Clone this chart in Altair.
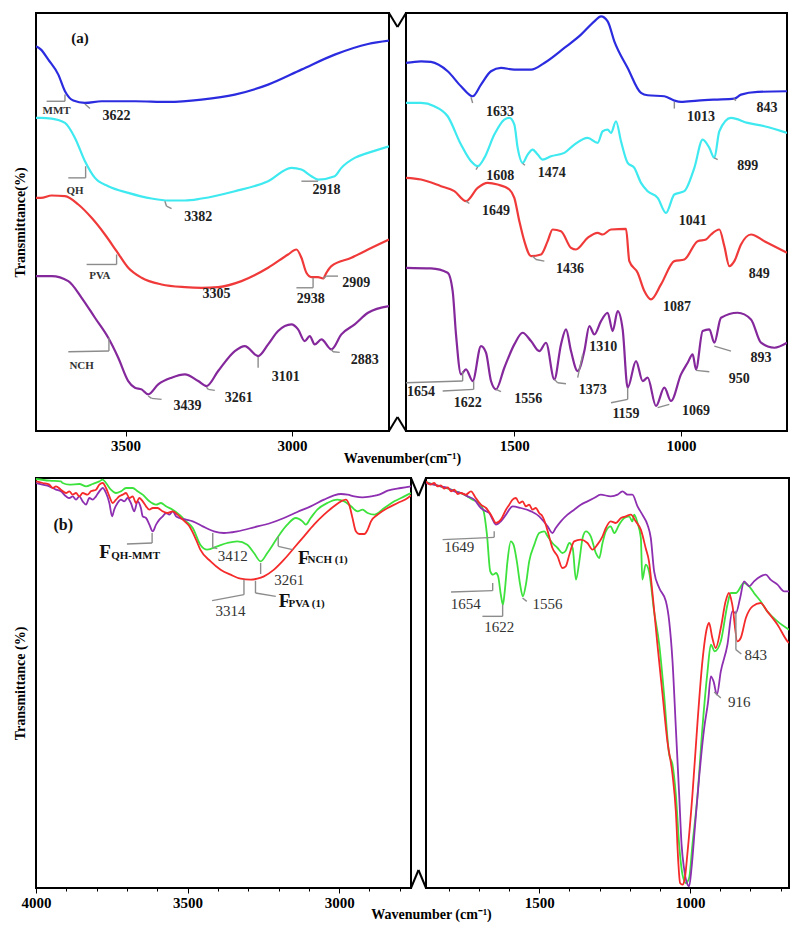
import altair as alt
import pandas as pd

FONT = "Liberation Serif"

# ---------------- Panel (a): individual spectra (wavenumber, transmittance a.u.) ----------------
A_LEFT_MMT = [(3769, 115.5), (3754, 114.5), (3732, 111.5), (3702, 107.0), (3682, 102.0), (3657, 99.2),
              (3622, 98.5), (3572, 99.0), (3472, 99.0), (3372, 98.8), (3272, 99.5), (3172, 101.0),
              (3072, 104.0), (2972, 108.5), (2872, 113.0), (2772, 116.2), (2709, 117.2)]
A_LEFT_QH = [(3769, 94.0), (3754, 94.0), (3722, 93.8), (3682, 92.5), (3652, 88.0), (3622, 81.0), (3592, 76.0),
             (3552, 73.5), (3492, 71.5), (3422, 69.8), (3372, 69.2), (3322, 69.2), (3272, 69.8),
             (3172, 72.0), (3072, 75.0), (3002, 79.0), (2972, 78.5), (2942, 76.5), (2922, 75.5),
             (2872, 76.5), (2852, 79.0), (2812, 82.0), (2772, 83.5), (2709, 85.5)]
A_LEFT_PVA = [(3769, 70.0), (3754, 70.0), (3722, 70.7), (3682, 70.5), (3642, 68.0), (3602, 64.0), (3562, 59.0),
              (3527, 54.0), (3492, 49.0), (3452, 46.0), (3392, 44.0), (3322, 43.2), (3272, 43.0),
              (3222, 43.2), (3152, 45.0), (3072, 49.0), (3012, 53.0), (2987, 54.5), (2972, 52.0),
              (2957, 47.5), (2942, 46.2), (2922, 46.2), (2907, 45.8), (2897, 47.5), (2882, 49.5),
              (2822, 52.0), (2772, 54.5), (2709, 57.5)]
A_LEFT_NCH = [(3769, 46.5), (3754, 46.5), (3722, 46.5), (3672, 45.0), (3632, 40.0), (3592, 34.0), (3552, 28.0),
              (3522, 22.0), (3492, 15.0), (3472, 13.0), (3452, 12.5), (3432, 11.0), (3402, 14.0),
              (3362, 16.0), (3322, 17.0), (3282, 15.0), (3257, 13.5), (3222, 18.0), (3172, 24.0),
              (3142, 25.5), (3102, 22.5), (3072, 26.0), (3042, 30.0), (3002, 32.0), (2982, 30.5),
              (2962, 27.0), (2947, 28.5), (2932, 26.0), (2912, 27.5), (2882, 24.5), (2852, 29.0),
              (2812, 32.0), (2772, 35.5), (2709, 37.5)]

A_RIGHT_MMT = [(1825, 110.5), (1780, 111.0), (1750, 110.8), (1700, 108.0), (1660, 103.5), (1625, 100.5),
               (1600, 104.0), (1570, 108.0), (1540, 109.0), (1500, 108.5), (1450, 108.5), (1410, 110.5),
               (1350, 115.0), (1300, 119.0), (1260, 123.0), (1240, 124.5), (1220, 123.0), (1200, 117.0),
               (1160, 109.0), (1120, 101.5), (1100, 100.8), (1050, 100.5), (1020, 99.2), (1000, 98.8),
               (950, 99.2), (900, 99.5), (840, 99.8), (820, 101.0), (770, 101.8), (682, 102.0)]
A_RIGHT_QH = [(1825, 98.5), (1780, 98.5), (1740, 97.5), (1700, 94.5), (1660, 86.0), (1630, 81.0),
              (1610, 79.5), (1590, 82.0), (1560, 89.0), (1530, 93.5), (1515, 94.0), (1500, 92.0),
              (1490, 85.0), (1475, 80.5), (1460, 83.0), (1445, 84.5), (1430, 83.0), (1415, 81.5),
              (1390, 82.5), (1350, 83.5), (1320, 86.0), (1280, 88.0), (1250, 86.5), (1235, 90.0),
              (1220, 90.5), (1210, 89.5), (1195, 93.0), (1180, 87.0), (1160, 80.5), (1140, 79.0),
              (1120, 74.5), (1100, 72.0), (1070, 70.0), (1045, 65.5), (1020, 71.0), (990, 72.0),
              (960, 79.0), (935, 87.5), (915, 85.0), (900, 82.0), (885, 90.0), (850, 94.0),
              (800, 92.5), (750, 91.5), (682, 89.5)]
A_RIGHT_PVA = [(1825, 76.0), (1780, 75.5), (1720, 73.5), (1680, 72.0), (1645, 69.0), (1610, 73.0),
               (1580, 74.5), (1550, 74.0), (1515, 72.5), (1500, 70.0), (1485, 63.0), (1470, 57.0),
               (1450, 52.5), (1420, 53.0), (1400, 57.0), (1385, 60.5), (1360, 60.0), (1330, 55.0),
               (1315, 54.5), (1280, 58.0), (1250, 59.5), (1235, 59.0), (1210, 60.5), (1165, 60.7),
               (1155, 51.0), (1130, 47.5), (1110, 42.0), (1090, 39.5), (1060, 44.0), (1020, 51.0),
               (990, 51.5), (950, 57.0), (925, 57.5), (910, 59.0), (885, 60.5), (870, 55.5),
               (855, 49.5), (840, 51.0), (820, 56.0), (790, 59.0), (750, 57.0), (682, 53.5)]
A_RIGHT_NCH = [(1825, 49.0), (1750, 48.8), (1700, 47.5), (1685, 42.0), (1675, 29.0), (1660, 17.0),
               (1645, 18.5), (1625, 15.0), (1600, 25.5), (1585, 23.5), (1570, 15.0), (1555, 12.5),
               (1530, 19.0), (1500, 26.0), (1475, 29.5), (1450, 27.0), (1425, 24.0), (1405, 26.5),
               (1380, 15.5), (1360, 26.0), (1345, 30.5), (1330, 24.0), (1310, 18.0), (1290, 24.0),
               (1275, 31.5), (1260, 29.0), (1240, 33.0), (1220, 35.5), (1205, 30.0), (1190, 36.0),
               (1175, 30.5), (1160, 13.0), (1135, 21.0), (1115, 15.0), (1100, 16.0), (1075, 7.5),
               (1050, 13.0), (1030, 9.0), (1000, 17.0), (980, 20.5), (965, 23.0), (955, 18.5),
               (935, 30.0), (915, 30.5), (900, 26.5), (880, 34.0), (830, 35.5), (790, 33.5),
               (760, 26.5), (720, 25.0), (682, 26.5)]

# ---------------- Panel (b): films ----------------
B_LEFT_GREEN = [(4000, 122.7), (3956, 122.2), (3918, 122.0), (3912, 121.5), (3890, 121.0), (3857, 121.2),
                (3835, 120.5), (3813, 121.2), (3791, 122.0), (3780, 122.5), (3769, 121.5), (3753, 119.5),
                (3736, 118.5), (3720, 119.0), (3703, 120.0), (3681, 120.0), (3665, 119.0), (3648, 118.0),
                (3626, 116.0), (3604, 115.0), (3588, 115.5), (3571, 114.5), (3549, 113.5), (3527, 112.0),
                (3505, 110.0), (3483, 108.0), (3458, 103.0), (3435, 101.5), (3402, 102.5), (3369, 103.5),
                (3336, 104.0), (3303, 103.0), (3281, 100.5), (3259, 98.0), (3237, 100.5), (3215, 103.5),
                (3193, 106.5), (3171, 109.0), (3143, 111.0), (3121, 110.0), (3110, 109.0), (3094, 111.0),
                (3072, 113.5), (3039, 115.5), (3006, 116.5), (2983, 116.0), (2961, 114.5), (2939, 113.0),
                (2923, 113.5), (2906, 112.5), (2884, 112.0), (2851, 114.0), (2818, 116.0), (2785, 117.5),
                (2763, 118.5)]
B_LEFT_RED = [(4000, 122.0), (3978, 121.5), (3956, 121.0), (3945, 120.0), (3934, 120.5), (3918, 119.5),
              (3901, 118.5), (3890, 119.0), (3879, 118.0), (3868, 118.5), (3857, 117.5), (3846, 118.5),
              (3830, 118.0), (3819, 119.0), (3802, 119.5), (3791, 121.0), (3780, 121.5), (3769, 120.0),
              (3758, 117.5), (3747, 115.5), (3736, 116.5), (3725, 117.5), (3714, 118.0), (3703, 118.5),
              (3692, 117.0), (3681, 117.5), (3670, 115.5), (3659, 117.0), (3648, 116.0), (3637, 114.5),
              (3626, 113.5), (3615, 114.0), (3599, 114.0), (3582, 113.0), (3566, 112.5), (3549, 113.0),
              (3533, 112.0), (3516, 110.5), (3494, 108.5), (3472, 104.5), (3458, 101.5), (3424, 98.0),
              (3391, 95.5), (3358, 94.0), (3325, 92.8), (3292, 92.5), (3270, 92.8), (3248, 93.5),
              (3215, 95.5), (3182, 98.5), (3149, 102.0), (3116, 105.5), (3083, 109.0), (3050, 112.0),
              (3017, 114.5), (2994, 116.0), (2978, 116.5), (2967, 115.0), (2956, 111.0), (2945, 107.0),
              (2934, 106.2), (2917, 106.2), (2906, 107.5), (2895, 110.0), (2873, 112.0), (2840, 114.0),
              (2807, 115.5), (2774, 117.0), (2763, 117.8)]
B_LEFT_PURPLE = [(4000, 121.5), (3978, 121.0), (3956, 120.5), (3934, 119.5), (3918, 119.0), (3901, 117.5),
                 (3890, 117.0), (3879, 117.5), (3868, 116.5), (3857, 117.5), (3846, 116.0), (3835, 115.0),
                 (3824, 117.0), (3813, 116.5), (3802, 117.5), (3791, 119.0), (3780, 120.0), (3769, 118.5),
                 (3758, 115.5), (3749, 111.5), (3742, 113.5), (3731, 115.5), (3720, 116.5), (3709, 116.0),
                 (3698, 117.0), (3687, 115.5), (3676, 113.0), (3665, 116.0), (3654, 114.0), (3648, 111.5),
                 (3637, 111.0), (3626, 109.0), (3615, 107.0), (3604, 109.0), (3593, 110.5), (3582, 111.5),
                 (3571, 112.5), (3560, 112.0), (3549, 113.0), (3538, 111.5), (3527, 111.0), (3505, 110.5),
                 (3483, 110.0), (3450, 108.5), (3413, 107.0), (3380, 106.5), (3336, 107.0), (3281, 108.2),
                 (3226, 109.5), (3182, 111.0), (3138, 112.8), (3094, 114.5), (3050, 116.5), (3017, 117.8),
                 (2994, 118.2), (2972, 118.0), (2950, 117.5), (2923, 117.2), (2895, 117.5), (2868, 118.0),
                 (2840, 119.2), (2796, 120.0), (2763, 120.5)]

B_RIGHT_GREEN = [(1875, 121.8), (1848, 121.0), (1815, 120.2), (1781, 119.2), (1748, 118.0), (1721, 116.5),
                 (1699, 115.5), (1684, 113.0), (1673, 106.0), (1662, 95.0), (1653, 94.0), (1643, 94.5),
                 (1636, 93.5), (1627, 88.0), (1620, 85.0), (1614, 89.0), (1605, 98.0), (1594, 104.0),
                 (1585, 103.0), (1574, 98.0), (1563, 91.0), (1554, 87.5), (1544, 91.0), (1533, 98.0),
                 (1516, 103.0), (1500, 106.5), (1483, 107.0), (1472, 105.5), (1456, 103.5), (1439, 102.0),
                 (1423, 100.5), (1412, 101.2), (1400, 103.5), (1389, 102.0), (1378, 92.5), (1367, 98.0),
                 (1356, 105.0), (1345, 107.0), (1329, 105.5), (1312, 100.5), (1301, 99.0), (1290, 103.5),
                 (1279, 107.0), (1263, 108.5), (1251, 106.5), (1235, 109.0), (1218, 111.0), (1202, 111.5),
                 (1191, 110.0), (1185, 112.0), (1174, 109.5), (1163, 105.0), (1158, 92.5), (1147, 97.0),
                 (1136, 95.0), (1119, 83.0), (1102, 73.0), (1086, 58.0), (1069, 40.0), (1058, 37.0),
                 (1047, 28.0), (1036, 13.0), (1025, 4.0), (1014, 1.5), (1003, 3.0), (992, 13.0),
                 (975, 28.0), (959, 48.0), (942, 65.0), (931, 73.0), (918, 71.0), (898, 74.0),
                 (876, 85.0), (865, 88.5), (848, 88.5), (821, 91.5), (804, 90.5), (788, 88.5),
                 (766, 86.0), (744, 83.0), (710, 80.0), (672, 77.5)]
B_RIGHT_RED = [(1875, 122.0), (1860, 121.0), (1848, 121.5), (1837, 120.5), (1826, 120.8), (1815, 119.8),
               (1803, 120.2), (1792, 119.0), (1781, 119.5), (1770, 118.2), (1759, 118.5), (1743, 118.0),
               (1726, 119.0), (1710, 117.0), (1693, 115.0), (1676, 114.0), (1660, 112.0),
               (1643, 109.5), (1627, 110.5), (1610, 113.5), (1599, 115.0), (1588, 116.5), (1577, 117.0),
               (1566, 115.5), (1555, 116.0), (1544, 114.5), (1533, 115.0), (1522, 113.5), (1511, 114.0),
               (1500, 112.5), (1489, 111.5), (1478, 109.0), (1467, 105.5), (1456, 102.0), (1439, 99.5),
               (1423, 96.0), (1412, 96.5), (1400, 100.0), (1384, 104.0), (1362, 104.5), (1340, 103.5),
               (1323, 101.5), (1307, 103.0), (1290, 105.5), (1279, 108.0), (1263, 110.0), (1246, 109.5),
               (1229, 111.0), (1213, 111.5), (1196, 112.0), (1180, 110.0), (1163, 107.5), (1147, 102.0),
               (1136, 98.0), (1124, 88.0), (1108, 73.0), (1091, 58.0), (1075, 44.0), (1058, 34.0),
               (1047, 23.0), (1039, 8.0), (1033, 1.5), (1025, 1.0), (1017, 3.0), (1009, 10.0),
               (992, 28.0), (975, 50.0), (959, 68.0), (944, 78.0), (937, 79.5), (926, 75.0),
               (915, 72.0), (898, 78.0), (882, 86.0), (871, 88.5), (860, 85.0), (843, 74.0),
               (832, 75.0), (815, 81.0), (793, 84.5), (766, 85.5), (744, 83.0), (710, 79.0),
               (677, 74.0), (672, 73.5)]
B_RIGHT_PURPLE = [(1875, 121.5), (1848, 121.0), (1826, 120.5), (1803, 120.0), (1781, 119.0), (1759, 118.5),
                  (1737, 117.5), (1715, 116.5), (1693, 114.0), (1676, 113.0), (1665, 112.5), (1654, 110.5),
                  (1643, 109.0), (1627, 110.0), (1610, 112.0), (1588, 114.5), (1561, 114.0), (1527, 113.0),
                  (1500, 111.5), (1472, 108.5), (1456, 106.5), (1445, 108.0), (1428, 110.0), (1406, 112.0),
                  (1384, 113.5), (1362, 115.0), (1340, 116.0), (1318, 117.0), (1296, 118.0), (1263, 117.5),
                  (1240, 118.0), (1224, 119.0), (1207, 118.0), (1191, 118.0), (1174, 114.5), (1158, 112.0),
                  (1141, 109.0), (1130, 105.0), (1119, 95.0), (1102, 90.0), (1080, 86.0), (1069, 80.0),
                  (1058, 68.0), (1047, 48.0), (1036, 28.0), (1028, 13.0), (1020, 6.0), (1012, 2.0),
                  (1003, 0.5), (995, 6.0), (984, 18.0), (970, 33.0), (953, 48.0), (940, 56.0),
                  (931, 63.5), (922, 62.0), (911, 58.0), (898, 65.0), (876, 73.0), (860, 83.0),
                  (848, 82.5), (834, 87.0), (821, 92.0), (804, 90.5), (788, 92.0), (766, 93.5),
                  (749, 94.0), (733, 92.5), (710, 91.0), (688, 89.0), (672, 89.0)]

# ---------------- annotations ----------------
A_LEFT_PEAKS = [("3622", 3527, 94.5), ("3382", 3282, 64.2), ("2918", 2897, 72.5), ("3305", 3227, 41.0),
                ("2938", 2944, 39.7), ("2909", 2807, 44.5), ("3439", 3314, 7.5), ("3261", 3160, 10.0),
                ("3101", 3019, 16.2), ("2883", 2782, 21.2)]
A_LEFT_NAMES = [("MMT", 3707, 96.0), ("QH", 3652, 72.0), ("PVA", 3577, 46.5), ("NCH", 3632, 19.5)]
A_LEFT_LEADERS = [(3682, 101, 3682, 99), (3682, 99, 3737, 99), (3622, 98.2, 3607, 96.8),
                  (3620, 79.5, 3620, 76), (3620, 76, 3672, 76), (3382, 69, 3377, 67.5), (3377, 67.5, 3362, 66.8),
                  (2972, 75, 2922, 75), (3527, 53, 3527, 50), (3527, 50, 3617, 50),
                  (2937, 46, 2937, 43), (2937, 43, 2987, 43), (2907, 45.8, 2897, 46.5), (2897, 46.5, 2862, 46.5),
                  (3550, 28, 3550, 24), (3550, 24, 3672, 23.8), (3432, 10.5, 3422, 9.8), (3422, 9.8, 3392, 9.5),
                  (3257, 13.2, 3252, 12.5), (3252, 12.5, 3232, 12.2), (3102, 22.2, 3102, 19),
                  (2882, 24.5, 2877, 23.8), (2877, 23.8, 2857, 23.6)]
A_RIGHT_PEAKS = [("1633", 1543, 95.8), ("1013", 940, 94.3), ("843", 742, 97.0), ("1608", 1542, 76.7),
                 ("1474", 1388, 77.5), ("899", 800, 79.7), ("1041", 965, 63.0), ("1649", 1555, 66.2),
                 ("1436", 1333, 48.5), ("1087", 1012, 37.2), ("849", 765, 47.0), ("1654", 1780, 11.8),
                 ("1622", 1640, 8.5), ("1556", 1458, 9.5), ("1373", 1265, 12.2), ("1310", 1233, 25.2),
                 ("1159", 1165, 5.2), ("1069", 955, 6.0), ("950", 825, 15.7), ("893", 760, 21.8)]
A_RIGHT_LEADERS = [(1630, 100.2, 1625, 98.5), (1020, 98.8, 1020, 96.8), (842, 99.8, 835, 99.2),
                   (1610, 79.3, 1615, 78.5), (1475, 80.3, 1468, 79.8), (900, 82, 890, 81.5),
                   (1645, 69, 1635, 68.3), (1445, 52.5, 1435, 51.5), (1435, 51.5, 1410, 51),
                   (1655, 18, 1655, 15), (1655, 15, 1825, 14.5), (1622, 15, 1622, 12.5), (1622, 12.5, 1715, 12),
                   (1555, 12.5, 1540, 11.8), (1380, 15.5, 1370, 14.5), (1370, 14.5, 1345, 14.2),
                   (1310, 16, 1295, 23), (1160, 13, 1160, 9.5), (1160, 9.5, 1210, 8.5),
                   (1070, 7, 1035, 8), (955, 18.2, 915, 17.8), (900, 25.5, 850, 24)]

B_LEFT_PEAKS = [("3412", 3351, 99.5), ("3261", 3165, 92.5), ("3314", 3358, 83.2)]
B_LEFT_F = [("F", 3772, 100.8), ("F", 3117, 99.0), ("F", 3180, 86.0)]
B_LEFT_SUB = [("QH-MMT", 3752, 99.6), ("NCH (1)", 3104, 98.3), ("PVA (1)", 3167, 85.1)]
B_LEFT_LEADERS = [(3617, 106.5, 3617, 103.5), (3617, 103.5, 3700, 103.2), (3417, 106.5, 3417, 102.2),
                  (3417, 102.2, 3402, 101.8), (3259, 97.5, 3259, 94.2), (3201, 105.5, 3201, 102.5),
                  (3201, 102.5, 3154, 101.5), (3314, 92.5, 3314, 88), (3314, 88, 3419, 86.2),
                  (3276, 92.2, 3276, 88.5), (3276, 88.5, 3209, 87.5)]
B_RIGHT_PEAKS = [("1649", 1765, 102.2), ("1654", 1743, 85.2), ("1622", 1632, 78.3), ("1556", 1472, 85.2),
                 ("843", 782, 70.0), ("916", 837, 55.7)]
B_RIGHT_LEADERS = [(1649, 107, 1649, 105.2), (1649, 105.2, 1820, 104.5), (1654, 91.5, 1654, 89.2),
                   (1654, 89.2, 1792, 88.8), (1621, 85, 1621, 81.5), (1621, 81.5, 1688, 81.5),
                   (1555, 87, 1541, 86), (848, 83.2, 848, 71.5), (848, 71.5, 830, 70.2), (920, 58.8, 898, 57)]

A_TAG = [("(a)", 3637, 118.0)]
B_TAG = [("(b)", 3910, 109.0)]

A_COLORS = ["#2b2bdf", "#3fe9f0", "#f03a3a", "#84289c"]
B_COLORS = ["#3de23d", "#8d2fb0", "#f52a2a"]


def pts_df(pts):
    return pd.DataFrame(pts, columns=["wn", "T"])


def txt_df(rows):
    return pd.DataFrame(rows, columns=["text", "wn", "T"])


def seg_df(rows):
    return pd.DataFrame(rows, columns=["wn1", "T1", "wn2", "T2"])


def build_panel(series, colors, sw, xdom, ydom, width, height, xaxis, yaxis,
                texts, leaders, break_gap=None, clip_text=False, sub_texts=None):
    xs = alt.Scale(domain=xdom, reverse=True, nice=False, zero=False)
    ys = alt.Scale(domain=ydom, nice=False, zero=False)
    X = lambda f: alt.X(f, scale=xs, axis=xaxis)
    Y = lambda f: alt.Y(f, scale=ys, axis=yaxis)
    layers = []
    for pts, col in zip(series, colors):
        layers.append(alt.Chart(pts_df(pts)).mark_line(
            color=col, strokeWidth=sw, interpolate="monotone", clip=True
        ).encode(x=X("wn:Q"), y=Y("T:Q")))
    layers.append(alt.Chart(seg_df(leaders)).mark_rule(color="#8c8c8c", strokeWidth=1.4).encode(
        x=X("wn1:Q"), x2="wn2:Q", y=Y("T1:Q"), y2="T2:Q"))
    for rows, size, weight, color in texts:
        layers.append(alt.Chart(txt_df(rows)).mark_text(
            font=FONT, fontSize=size, fontWeight=weight, color=color,
            align="center", baseline="middle", clip=clip_text
        ).encode(x=X("wn:Q"), y=Y("T:Q"), text="text:N"))
    if sub_texts:
        for rows, size, weight, color in sub_texts:
            layers.append(alt.Chart(txt_df(rows)).mark_text(
                font=FONT, fontSize=size, fontWeight=weight, color=color,
                align="left", baseline="middle"
            ).encode(x=X("wn:Q"), y=Y("T:Q"), text="text:N"))
    if break_gap is not None:
        one = pd.DataFrame({"k": [0]})
        g, d = break_gap
        for (xa, ya, xb, yb) in [(width, 0, width + g / 2, d), (width + g / 2, d, width + g, 0),
                                 (width, height, width + g / 2, height - d),
                                 (width + g / 2, height - d, width + g, height)]:
            layers.append(alt.Chart(one).mark_rule(color="black", strokeWidth=2).encode(
                x=alt.value(xa), x2=alt.value(xb), y=alt.value(ya), y2=alt.value(yb)))
    return alt.layer(*layers).properties(width=width, height=height)


def x_axis(major, minor=None, title=None, tx=0, ty=0):
    vals = minor if minor else major
    kw = dict(values=vals, format="d", labelFlush=False, labelOverlap=False, labelPadding=2,
              labelExpr="datum.value % 500 === 0 ? datum.label : ''",
              tickSize={"condition": {"test": "datum.value % 500 === 0", "value": 5}, "value": 3})
    if title:
        kw.update(title=title, titleX=tx, titleY=ty, titleAlign="center", titleBaseline="middle")
    else:
        kw.update(title=None)
    return alt.Axis(**kw)


def y_axis(title):
    return alt.Axis(title=title, labels=False, ticks=False, domain=False, titlePadding=9)


A_W_L, A_W_R, A_H = 353, 381, 418
B_W_L, B_W_R, B_H = 375, 363, 410

a_text_left = [(A_LEFT_PEAKS, 14, "bold", "#222"), (A_LEFT_NAMES, 11, "bold", "#333"), (A_TAG, 15, "bold", "#111")]
a_text_right = [(A_RIGHT_PEAKS, 14, "bold", "#222")]

a_left = build_panel([A_LEFT_MMT, A_LEFT_QH, A_LEFT_PVA, A_LEFT_NCH], A_COLORS, 2.2,
                     [2709, 3769], [0, 125.5], A_W_L, A_H,
                     x_axis([3500, 3000], title="Wavenumber(cm⁻¹)", tx=366, ty=27),
                     y_axis("Transmittance(%)"), a_text_left, A_LEFT_LEADERS, break_gap=(17, 14))
a_right = build_panel([A_RIGHT_MMT, A_RIGHT_QH, A_RIGHT_PVA, A_RIGHT_NCH], A_COLORS, 2.2,
                      [682, 1825], [0, 125.5], A_W_R, A_H,
                      x_axis([1500, 1000]), None, a_text_right, A_RIGHT_LEADERS, clip_text=True)

b_text_left = [(B_LEFT_PEAKS, 15, "normal", "#333"), (B_LEFT_F, 19, "bold", "#111"), (B_TAG, 16, "bold", "#111")]
b_sub_left = [(B_LEFT_SUB, 11, "bold", "#111")]
b_text_right = [(B_RIGHT_PEAKS, 15, "normal", "#333")]

b_left = build_panel([B_LEFT_GREEN, B_LEFT_PURPLE, B_LEFT_RED], B_COLORS, 1.8,
                     [2763, 4000], [0, 123], B_W_L, B_H,
                     x_axis([4000, 3500, 3000], minor=list(range(2800, 4001, 100)),
                            title="Wavenumber (cm⁻¹)", tx=395, ty=26),
                     y_axis("Transmittance (%)"), b_text_left, B_LEFT_LEADERS, break_gap=(15, 18),
                     sub_texts=b_sub_left)
b_right = build_panel([B_RIGHT_GREEN, B_RIGHT_PURPLE, B_RIGHT_RED], B_COLORS, 1.8,
                      [672, 1875], [0, 123], B_W_R, B_H,
                      x_axis([1500, 1000], minor=list(range(700, 1900, 100))), None,
                      b_text_right, B_RIGHT_LEADERS, clip_text=True)

row_a = alt.hconcat(a_left, a_right, spacing=17, bounds="flush")
row_b = alt.hconcat(b_left, b_right, spacing=15, bounds="flush")

chart = alt.vconcat(row_a, row_b, spacing=10).properties(
    padding={"left": 12, "top": 11, "right": 5, "bottom": 5},
    background="white"
).configure_view(stroke="black", strokeWidth=2).configure_axis(
    labelFont=FONT, labelFontSize=15, labelFontWeight="bold", labelColor="black",
    titleFont=FONT, titleFontSize=14, titleFontWeight="bold", titleColor="black",
    grid=False, domain=False, tickColor="black"
)

chart.save("out.html", embed_options={"renderer": "svg", "actions": False})
